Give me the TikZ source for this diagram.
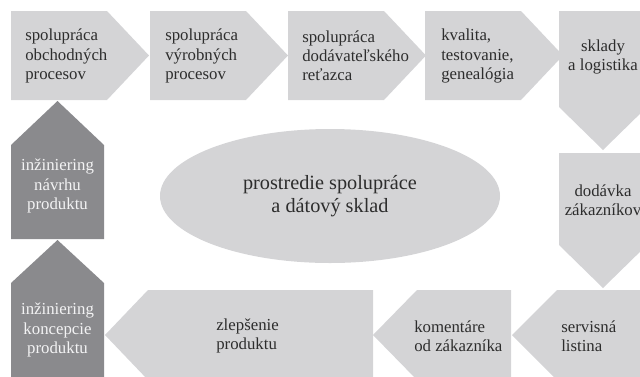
\documentclass[tikz,border=0pt]{standalone}
\usepackage{fontspec}
\setmainfont{Liberation Serif}
\usetikzlibrary{positioning, shapes.geometric}
\definecolor{lightgrey}{RGB}{212,212,214}
\definecolor{darkgrey}{RGB}{138,138,141}
\definecolor{textgrey}{RGB}{45,45,45}

\begin{document}
\begin{tikzpicture}[x=0.75pt, y=-0.75pt,
  txt/.style={inner sep=0pt, text=textgrey, font=\fontsize{12.6}{14.3}\selectfont},
  ltxt/.style={txt, anchor=west, align=left},
  ctxt/.style={txt, align=center},
  dtxt/.style={ctxt, text=white!90!darkgrey}]
  \useasboundingbox (0,0) rectangle (640,376);
  \clip (0,0) rectangle (640,376);
  % top row, pointing right
  \foreach \x in {11,150,288,425}
    \fill[lightgrey] (\x,11) -- ++(96,0) -- ++(42,44.5) -- ++(-42,44.5) -- ++(-96,0) -- cycle;
  % right column, pointing down
  \fill[lightgrey] (559,11) -- (647,11) -- (647,107) -- (603,150) -- (559,107) -- cycle;
  \fill[lightgrey] (559,153) -- (647,153) -- (647,245) -- (603,288) -- (559,245) -- cycle;
  % bottom row, pointing left
  \fill[lightgrey] (512,335) -- (557,290) -- (650,290) -- (650,380) -- (557,380) -- cycle;
  \fill[lightgrey] (373,335) -- (417,290) -- (511,290) -- (511,380) -- (417,380) -- cycle;
  \fill[lightgrey] (105,335) -- (148,290) -- (373,290) -- (373,380) -- (148,380) -- cycle;
  % left column, pointing up
  \fill[darkgrey] (11,380) -- (11,283) -- (57.5,240) -- (104,283) -- (104,380) -- cycle;
  \fill[darkgrey] (11,239) -- (11,145) -- (57.5,101) -- (104,145) -- (104,239) -- cycle;

  \node[ellipse, fill=lightgrey, inner sep=0pt, minimum width=255pt, minimum height=100.5pt,
    align=center, text=textgrey, font=\fontsize{15.2}{17.3}\selectfont]
    (hub) at (330,196) {prostredie spolupráce\\a dátový sklad};

  \node[ltxt] (obchod) at (25,56) {spolupráca\\obchodných\\procesov};
  \node[ltxt] (vyroba) at (165,56) {spolupráca\\výrobných\\procesov};
  \node[ltxt] (retazec) at (302,56) {spolupráca\\dodávateľského\\reťazca};
  \node[ltxt] (kvalita) at (441,56) {kvalita,\\testovanie,\\genealógia};
  \node[ctxt] (sklady) at (603,57) {sklady\\a logistika};
  \node[ctxt] (dodavka) at (603,200) {dodávka\\zákazníkov};
  \node[ltxt] (servis) at (561,336) {servisná\\listina};
  \node[ltxt] (koment) at (414,336) {komentáre\\od zákazníka};
  \node[ltxt] (zlepsenie) at (216,336) {zlepšenie\\produktu};
  \node[dtxt] (koncepcia) at (57.5,330) {inžiniering\\koncepcie\\produktu};
  \node[dtxt] (navrh) at (57.5,186) {inžiniering\\návrhu\\produktu};
\end{tikzpicture}
\end{document}
